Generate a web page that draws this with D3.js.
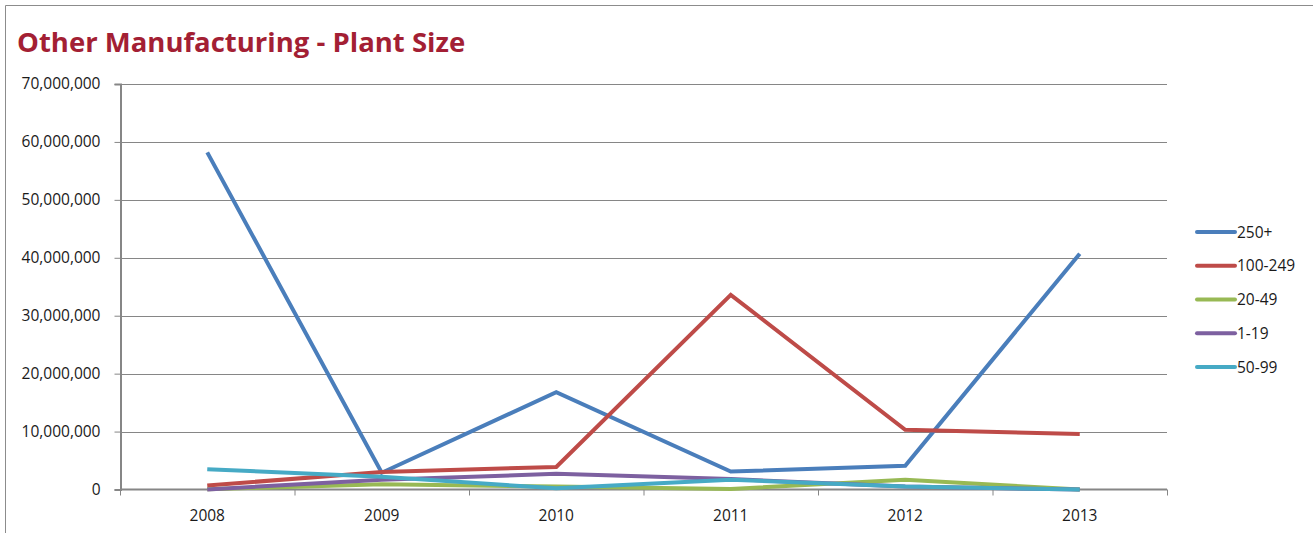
<!DOCTYPE html>
<html>
<head>
<meta charset="utf-8">
<script src="https://cdn.jsdelivr.net/npm/d3@7"></script>
<style>
  html, body { margin: 0; padding: 0; background: #fff; }
  svg { display: block; font-family: "Open Sans", "Noto Sans", sans-serif; }
</style>
</head>
<body>
<div id="chart"></div>
<script>
// --- data ---
const years = ["2008", "2009", "2010", "2011", "2012", "2013"];
const seriesNames = ["250+", "100-249", "20-49", "1-19", "50-99"];
const s250plus = [58200000, 2900000, 16800000, 3100000, 4100000, 40700000];
const s100_249 = [700000, 3000000, 3900000, 33600000, 10300000, 9600000];
const s20_49 = [50000, 900000, 500000, 100000, 1700000, 0];
const s1_19 = [0, 1700000, 2700000, 1800000, 500000, 0];
const s50_99 = [3500000, 2200000, 200000, 1700000, 500000, 0];
const yTicks = [0, 10000000, 20000000, 30000000, 40000000, 50000000, 60000000, 70000000];

const seriesValues = [s250plus, s100_249, s20_49, s1_19, s50_99];
const colors = ["#4A7EBB", "#BE4B48", "#98B954", "#7D60A0", "#46AAC5"];

const W = 1314, H = 533;
const margin = { top: 84, left: 120, right: 147, bottom: 43 };
const labelSize = "15.5px";

const svg = d3.select("#chart").append("svg")
  .attr("width", W)
  .attr("height", H);

// frame
svg.append("path")
  .attr("d", `M5.5,${H} V5.5 H1313`)
  .attr("fill", "none")
  .attr("stroke", "#8c8c8c")
  .attr("stroke-width", 1);

// title
svg.append("text")
  .attr("x", 17)
  .attr("y", 52)
  .attr("fill", "#A31F34")
  .style("font-weight", "bold")
  .style("font-size", "27.5px")
  .text("Other Manufacturing - Plant Size");

const x = d3.scaleBand()
  .domain(years)
  .range([margin.left, W - margin.right]);

const y = d3.scaleLinear()
  .domain([0, 70000000])
  .range([H - margin.bottom - 0.5, margin.top]);

// gridlines
svg.append("g")
  .selectAll("line")
  .data(yTicks.slice(1))
  .join("line")
  .attr("x1", margin.left)
  .attr("x2", W - margin.right)
  .attr("y1", d => Math.round(y(d)) + 0.5)
  .attr("y2", d => Math.round(y(d)) + 0.5)
  .attr("stroke", "#868686")
  .attr("stroke-width", 1);

// y axis
const yAxis = svg.append("g")
  .attr("transform", `translate(${margin.left + 0.5},0)`)
  .call(d3.axisLeft(y).tickValues(yTicks).tickSize(6).tickPadding(14)
    .tickFormat(d3.format(",")));
yAxis.select(".domain").attr("stroke", "#868686").attr("stroke-width", 2);
yAxis.selectAll(".tick line").attr("stroke", "#868686");
yAxis.selectAll(".tick text")
  .attr("fill", "#1a1a1a")
  .style("font-size", labelSize)
  .style("font-family", "Open Sans, sans-serif");

// x axis
const xTickPos = d3.range(years.length + 1).map(i => margin.left + i * x.step());
const xAxisG = svg.append("g");
xAxisG.append("line")
  .attr("x1", margin.left)
  .attr("x2", W - margin.right)
  .attr("y1", y(0))
  .attr("y2", y(0))
  .attr("stroke", "#868686")
  .attr("stroke-width", 2);
xAxisG.selectAll("line.tick")
  .data(xTickPos)
  .join("line")
  .attr("class", "tick")
  .attr("x1", d => d + 0.5)
  .attr("x2", d => d + 0.5)
  .attr("y1", y(0))
  .attr("y2", y(0) + 6)
  .attr("stroke", "#868686");
xAxisG.selectAll("text")
  .data(years)
  .join("text")
  .attr("x", d => x(d) + x.bandwidth() / 2)
  .attr("y", y(0) + 31)
  .attr("text-anchor", "middle")
  .attr("fill", "#1a1a1a")
  .style("font-size", labelSize)
  .text(d => d);

// lines
const line = d3.line()
  .x((d, i) => x(years[i]) + x.bandwidth() / 2)
  .y(d => y(d));

svg.append("g")
  .selectAll("path")
  .data(seriesValues)
  .join("path")
  .attr("d", d => line(d))
  .attr("fill", "none")
  .attr("stroke", (d, i) => colors[i])
  .attr("stroke-width", 4)
  .attr("stroke-linejoin", "miter")
  .attr("stroke-linecap", "butt");

// legend
const legend = svg.append("g")
  .attr("transform", "translate(1197,232)");
const item = legend.selectAll("g")
  .data(seriesNames)
  .join("g")
  .attr("transform", (d, i) => `translate(0,${i * 33.75})`);
item.append("line")
  .attr("x1", 0).attr("x2", 38)
  .attr("stroke", (d, i) => colors[i])
  .attr("stroke-width", 4)
  .attr("stroke-linecap", "round");
item.append("text")
  .attr("x", 40)
  .attr("y", 5.5)
  .attr("fill", "#1a1a1a")
  .style("font-size", labelSize)
  .text(d => d);
</script>
</body>
</html>
